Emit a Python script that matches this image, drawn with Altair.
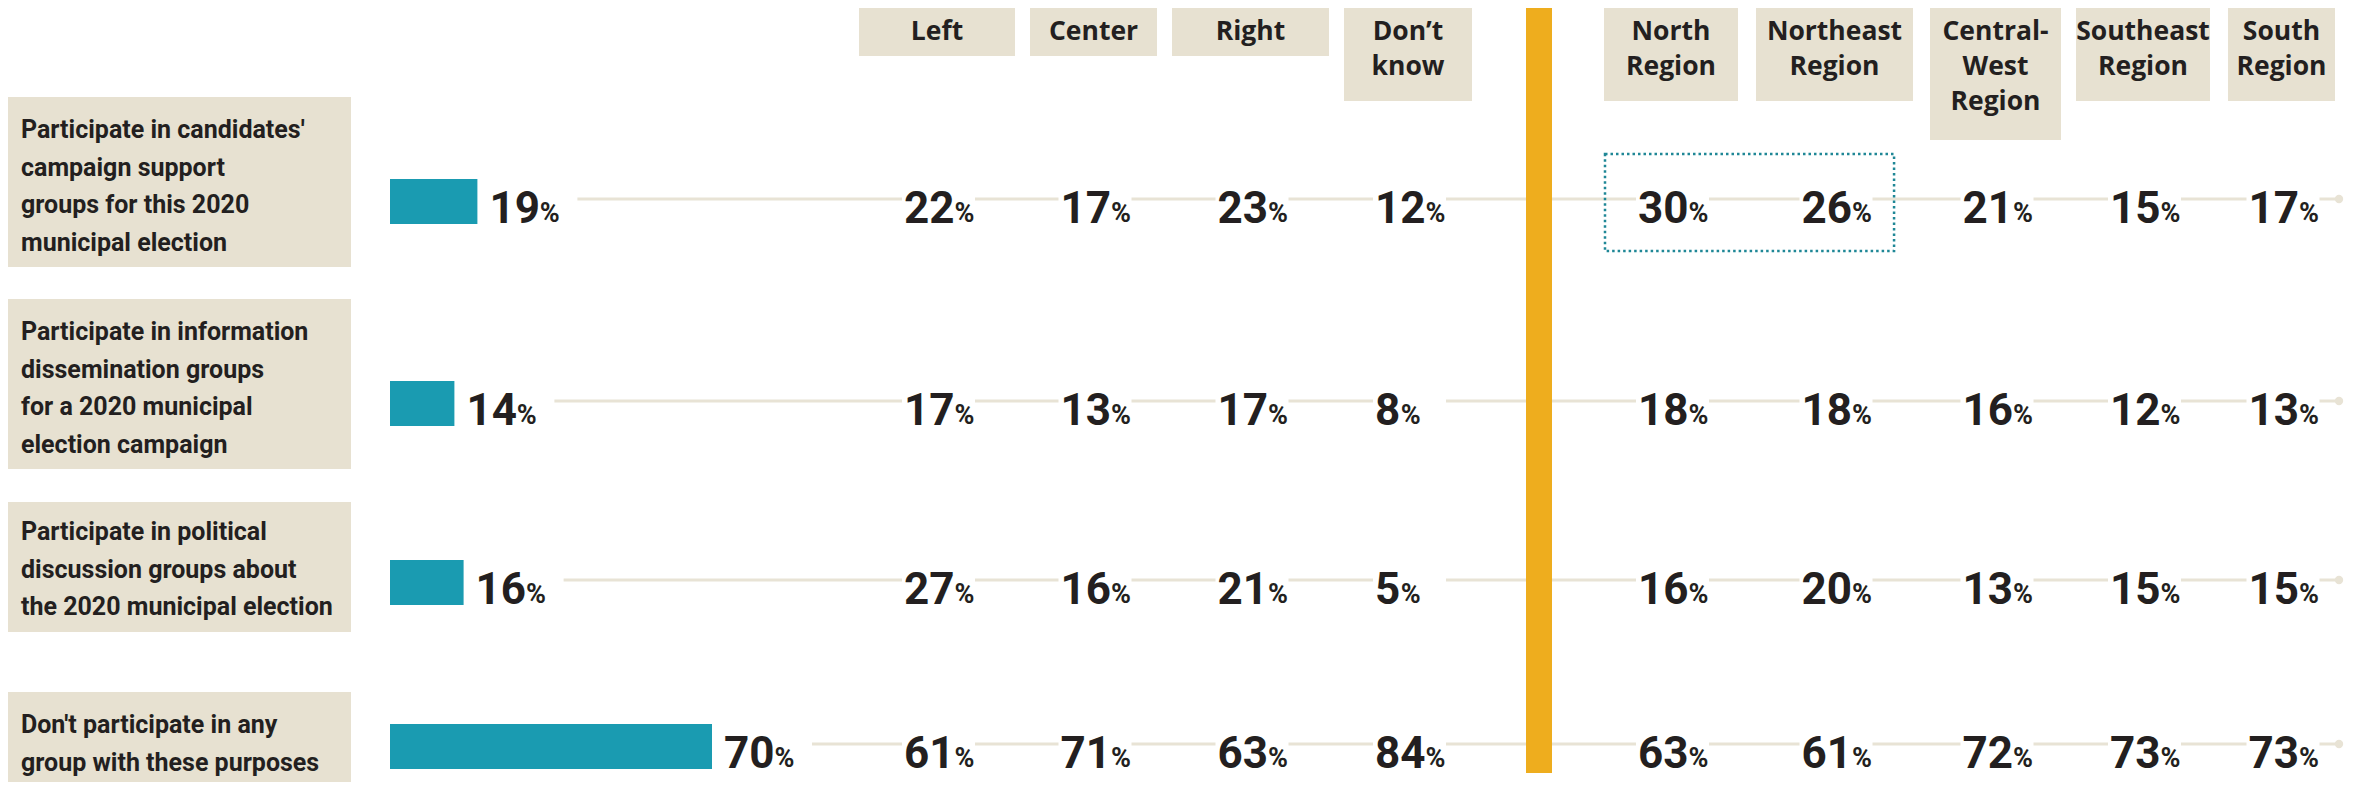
import altair as alt
import pandas as pd

# ---------------- data ----------------
row_lines = [
    ["Participate in candidates'", "campaign support", "groups for this 2020", "municipal election"],
    ["Participate in information", "dissemination groups", "for a 2020 municipal", "election campaign"],
    ["Participate in political", "discussion groups about", "the 2020 municipal election"],
    ["Don't participate in any", "group with these purposes"],
]
totals = [19, 14, 16, 70]

politics = ["Left", "Center", "Right", "Don’t know"]
regions = ["North Region", "Northeast Region", "Central-West Region", "Southeast Region", "South Region"]

header_lines = {
    "Left": ["Left"],
    "Center": ["Center"],
    "Right": ["Right"],
    "Don’t know": ["Don’t", "know"],
    "North Region": ["North", "Region"],
    "Northeast Region": ["Northeast", "Region"],
    "Central-West Region": ["Central-", "West", "Region"],
    "Southeast Region": ["Southeast", "Region"],
    "South Region": ["South", "Region"],
}

left_vals = [22, 17, 27, 61]
center_vals = [17, 13, 16, 71]
right_vals = [23, 17, 21, 63]
dontknow_vals = [12, 8, 5, 84]
north_vals = [30, 18, 16, 63]
northeast_vals = [26, 18, 20, 61]
centralwest_vals = [21, 16, 13, 72]
southeast_vals = [15, 12, 15, 73]
south_vals = [17, 13, 15, 73]

col_values = {
    "Left": left_vals, "Center": center_vals, "Right": right_vals, "Don’t know": dontknow_vals,
    "North Region": north_vals, "Northeast Region": northeast_vals,
    "Central-West Region": centralwest_vals, "Southeast Region": southeast_vals,
    "South Region": south_vals,
}

highlight_row = 0
highlight_cols = ["North Region", "Northeast Region"]

# ---------------- styles ----------------
BEIGE = "#e7e1d1"
LINE = "#e8e3d5"
TEAL = "#1a9bb1"
ORANGE = "#eead1e"
INK = "#231f20"
DOTC = "#1f8796"
NUMFONT = "Roboto"
HEAD = "Open Sans"
W, H = 2346, 774
NUM_SIZE = 44
PCT_SIZE = 27
DIGIT = 0.562 * NUM_SIZE  # advance of one digit at the value font size
# header box widths (style, px)
header_box_w = {"Left": 156, "Center": 127, "Right": 157, "Don’t know": 128, "North Region": 134,
                "Northeast Region": 157, "Central-West Region": 131, "Southeast Region": 134,
                "South Region": 107}

# column slots: politics, separator, regions
sep_index = len(politics)
col_index = {c: i for i, c in enumerate(politics)}
col_index.update({c: sep_index + 1 + i for i, c in enumerate(regions)})

row_scale = alt.Scale(type="linear", domain=[0, 1, 2, 3], range=[191, 393, 572, 736], zero=False, nice=False)
col_scale = alt.Scale(type="linear", domain=list(range(10)),
                      range=[929, 1085.5, 1242.5, 1400, 1531, 1663, 1826.5, 1987.5, 2135, 2273.5],
                      zero=False, nice=False)
bar_scale = alt.Scale(type="linear", domain=[0, 100], range=[382, 842], zero=False, nice=False)
hdr_scale = alt.Scale(type="linear", domain=[0, 1, 2, 3], range=[0, 48, 93, 132], zero=False, nice=False)

# ---------------- tables ----------------
rows_df = pd.DataFrame({
    "row": list(range(len(totals))),
    "pct": totals,
    "txt": [str(v) for v in totals],
    "nd": [len(str(v)) for v in totals],
    "lines": row_lines,
    "nl": [len(l) for l in row_lines],
})

cells = []
for c, vals in col_values.items():
    for r, v in enumerate(vals):
        cells.append({"row": r, "col": c, "ci": col_index[c], "value": v,
                      "txt": str(v), "nd": len(str(v))})
cells_df = pd.DataFrame(cells)

hdr_df = pd.DataFrame({
    "col": list(header_lines.keys()),
    "ci": [col_index[c] for c in header_lines],
    "lines": list(header_lines.values()),
    "nl": [len(v) for v in header_lines.values()],
})
hdr_df["zero"] = 0
hdr_df["hw"] = [header_box_w[c] / 2 for c in hdr_df["col"]]

sep_df = pd.DataFrame({"ci": [sep_index]})
hl_df = pd.DataFrame({"row": [highlight_row],
                      "x0": [col_index[highlight_cols[0]] - 0.5],
                      "x1": [col_index[highlight_cols[-1]] + 0.37]})

Yrow = alt.Y("row:Q", scale=row_scale, axis=None)
Xcol = alt.X("ci:Q", scale=col_scale, axis=None)
Xbar = alt.X("pct:Q", scale=bar_scale, axis=None)

layers = []

# row label boxes + texts (grouped by line count): box top, box bottom, first baseline
box_style = {4: (-102, 68, -61), 3: (-78, 52, -40), 2: (-52, 60, -11)}
box_layers, label_layers = [], []
for nl, (top, bot, tdy) in box_style.items():
    base = alt.Chart(rows_df).transform_filter(alt.datum.nl == nl)
    box_layers.append(base.mark_rect(color=BEIGE, yOffset=top, y2Offset=bot).encode(
        x=alt.value(0), x2=alt.value(343), y=Yrow, y2=alt.Y2("row:Q")))
    label_layers.append(base.mark_text(align="left", baseline="alphabetic", lineHeight=37.5,
                                       font=NUMFONT, fontSize=25, fontWeight="bold",
                                       color=INK, dy=tdy).encode(
        x=alt.value(13), y=Yrow, text="lines"))
layers += box_layers

# row lines
rows_base = alt.Chart(rows_df)
layers.append(rows_base.mark_rule(color=LINE, strokeWidth=3, xOffset=100).encode(
    x=Xbar, x2=alt.value(2331), y=Yrow))
layers.append(rows_base.mark_circle(color=LINE, size=70, opacity=1).encode(
    x=alt.value(2331), y=Yrow))

# white gaps behind values
cells_base = alt.Chart(cells_df)
layers.append(cells_base.mark_rect(color="white", xOffset=-35, x2Offset=38, yOffset=-6, y2Offset=6).encode(
    x=Xcol, x2=alt.X2("ci:Q"), y=Yrow, y2=alt.Y2("row:Q")))

# orange separator
layers.append(alt.Chart(sep_df).mark_rect(color=ORANGE, xOffset=-13, x2Offset=13).encode(
    x=Xcol, x2=alt.X2("ci:Q"), y=alt.value(0), y2=alt.value(765)))

# bars
layers.append(rows_base.mark_rect(color=TEAL, yOffset=-20, y2Offset=25).encode(
    x=alt.X("zero:Q", scale=bar_scale, axis=None), x2=alt.X2("pct:Q"), y=Yrow, y2=alt.Y2("row:Q")
).transform_calculate(zero="0"))

# bar labels
layers.append(rows_base.mark_text(align="left", baseline="alphabetic", font=NUMFONT, fontSize=NUM_SIZE,
                                  fontWeight="bold", color=INK, dx=12, dy=24).encode(
    x=Xbar, y=Yrow, text="txt:N"))
layers.append(rows_base.mark_text(align="left", baseline="alphabetic", font=NUMFONT, fontSize=PCT_SIZE,
                                  fontWeight="bold", color=INK,
                                  dx=alt.ExprRef(expr=f"datum.nd * {DIGIT} + 13"), dy=23).encode(
    x=Xbar, y=Yrow, text=alt.value("%")))

# headers
hdr_base = alt.Chart(hdr_df)
layers.append(hdr_base.mark_rect(color=BEIGE,
                                 xOffset=alt.ExprRef(expr="-datum.hw"),
                                 x2Offset=alt.ExprRef(expr="datum.hw")).encode(
    x=Xcol, x2=alt.X2("ci:Q"),
    y=alt.Y("zero:Q", scale=hdr_scale, axis=None), y2=alt.Y2("nl:Q")))
layers.append(hdr_base.mark_text(align="center", baseline="alphabetic", lineHeight=35, font=HEAD,
                                 fontSize=26.5, fontWeight="bold", color=INK, dy=32).encode(
    x=Xcol, y=alt.Y("zero:Q", scale=hdr_scale, axis=None), text="lines"))

layers += label_layers

# cell values
layers.append(cells_base.mark_text(align="left", baseline="alphabetic", font=NUMFONT, fontSize=NUM_SIZE,
                                   fontWeight="bold", color=INK, dx=-33, dy=24).encode(
    x=Xcol, y=Yrow, text="txt:N"))
layers.append(cells_base.mark_text(align="left", baseline="alphabetic", font=NUMFONT, fontSize=PCT_SIZE,
                                   fontWeight="bold", color=INK,
                                   dx=alt.ExprRef(expr=f"datum.nd * {DIGIT} - 32"), dy=23).encode(
    x=Xcol, y=Yrow, text=alt.value("%")))

# highlight box
layers.append(alt.Chart(hl_df).mark_rect(filled=False, color=DOTC, strokeWidth=2.5,
                                         strokeDash=[2.5, 3], yOffset=-45, y2Offset=52).encode(
    x=alt.X("x0:Q", scale=col_scale, axis=None), x2=alt.X2("x1:Q"), y=Yrow, y2=alt.Y2("row:Q")))

chart = alt.layer(*layers).resolve_scale(x="independent", y="independent").properties(
    width=W, height=H, padding=0,
    autosize=alt.AutoSizeParams(type="none"),
).configure_view(strokeWidth=0)

chart.save("out.html", embed_options={"renderer": "svg", "actions": False})
